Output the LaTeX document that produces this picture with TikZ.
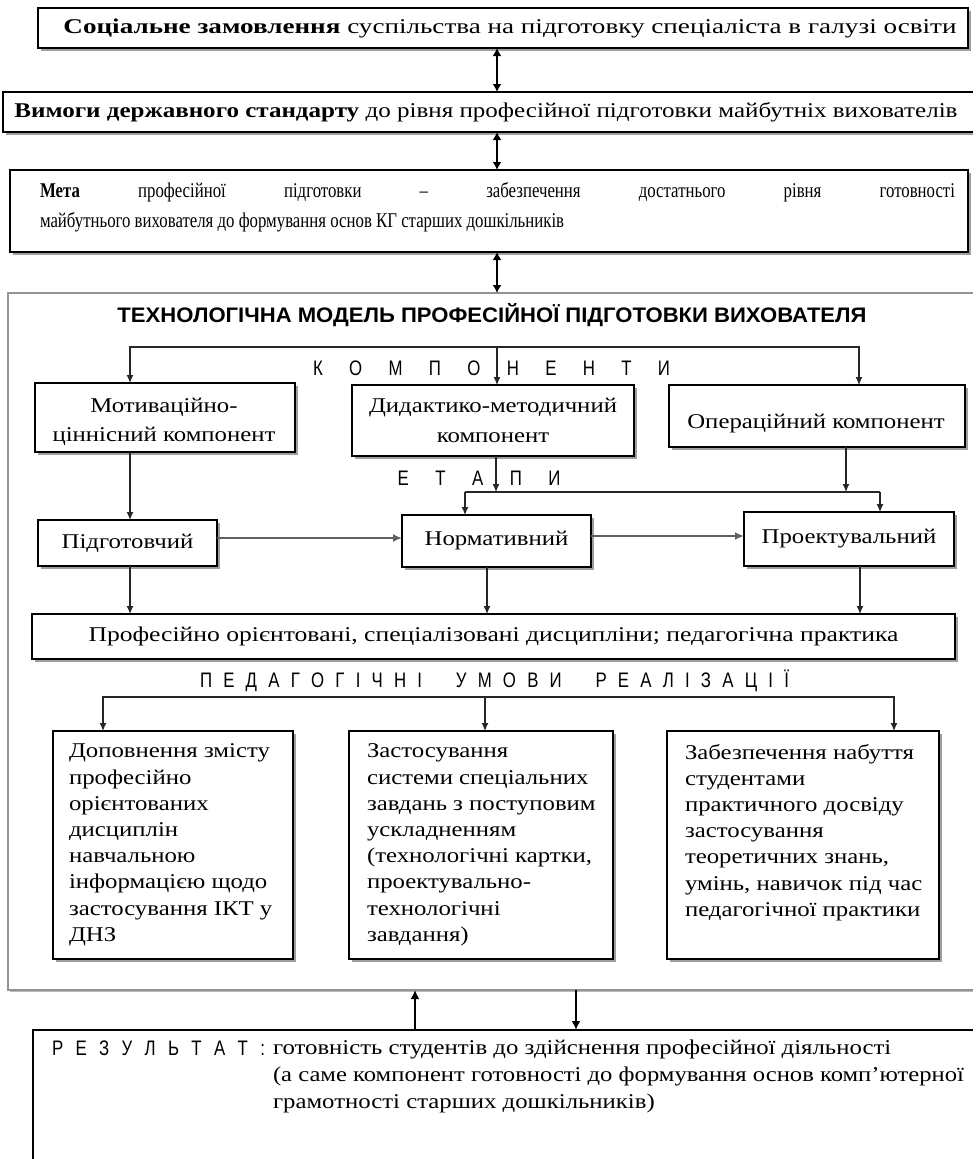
\documentclass[tikz,border=0pt]{standalone}
\usepackage{fontspec}
\setmainfont{Liberation Serif}[FakeStretch=1.18]
\newfontfamily\condserif[FakeStretch=0.8]{Liberation Serif}
\newfontfamily\sansf{Liberation Sans}
\newfontfamily\narrowf[FakeStretch=0.8]{Liberation Sans}
\usetikzlibrary{arrows.meta,shadows}
\newcommand{\spreadtxt}[2]{\makebox[#1][s]{#2}}
\newcommand{\hfit}[2]{\resizebox{#1}{\height}{#2}}
\begin{document}
\begin{tikzpicture}[x=1pt,y=-1pt,
  every node/.style={inner sep=0pt, outer sep=0pt},
  box/.style={draw=black, line width=1.3pt, fill=white,
    drop shadow={shadow xshift=2.5pt,shadow yshift=-2.5pt,fill=gray!75,opacity=1}},
  openbox/.style={draw=black, line width=1.3pt},
  shade/.style={fill=gray!75},
  txt/.style={font=\fontsize{21}{26.2}\selectfont},
  sp/.style={font=\narrowf\fontsize{21}{24}\selectfont, anchor=base},
  conn/.style={line width=1.2pt, draw=black!85},
  arr/.style={line width=1.2pt, draw=black!85, -{Latex[length=8pt,width=7pt]}},
  harr/.style={line width=2.6pt, draw=gray!75!black, -{Latex[length=9pt,width=8pt]}},
  dbl/.style={line width=2.6pt, {Latex[length=8pt,width=9pt]}-{Latex[length=8pt,width=9pt]}},
  tarr/.style={line width=2.6pt, -{Latex[length=9pt,width=9pt]}}
]
\useasboundingbox (0,0) rectangle (977,1159);
\fill[white] (0,0) rectangle (977,1159);

% top boxes
\node[box, minimum width=930pt, minimum height=40pt] (soc) at (503,28) {};
\node[txt] (soct) at (510,28)
  {\hfit{893pt}{\textbf{Соціальне замовлення} суспільства на підготовку спеціаліста в галузі освіти}};
% box cut by the right edge of the picture
\fill[shade] (5.5,132) rectangle (973,134.5);
\coordinate (vNW) at (3,92);
\coordinate (vSW) at (3,132);
\coordinate (vNE) at (973,92);
\coordinate (vSE) at (973,132);
\draw[openbox] (vNE) -- (vNW) -- (vSW) -- (vSE);
\node[txt] (vymt) at (486,112)
  {\hfit{943pt}{\textbf{Вимоги державного стандарту} до рівня професійної підготовки майбутніх вихователів}};
\node[box, minimum width=958pt, minimum height=82pt] (meta) at (489,211) {};
\node[txt, font=\condserif\fontsize{21}{30}\selectfont, anchor=north west, text width=915pt, align=justify] (metat) at (40,182)
  {\textbf{Мета} професійної підготовки – забезпечення достатнього рівня готовності\linebreak
   майбутнього вихователя до формування основ КГ старших дошкільників};

% model frame (cut by the right edge)
\fill[gray!55] (9.5,990) rectangle (973,992);
\coordinate (mNW) at (8,293);
\coordinate (mSW) at (8,990);
\coordinate (mNE) at (973,293);
\coordinate (mSE) at (973,990);
\draw[draw=gray!85, line width=1.5pt] (mNE) -- (mNW) -- (mSW) -- (mSE);
\node (title) at (492,315)
  {\hfit{749pt}{\sansf\bfseries\fontsize{21}{24}\selectfont ТЕХНОЛОГІЧНА МОДЕЛЬ ПРОФЕСІЙНОЇ ПІДГОТОВКИ ВИХОВАТЕЛЯ}};

\coordinate (ax) at (497,0);
\draw[dbl] (soc.south -| ax) -- (vNW -| ax);
\draw[dbl] (vSW -| ax) -- (meta.north -| ax);
\draw[dbl] (meta.south -| ax) -- (mNW -| ax);

% components
\node[sp] (komp) at (491.5,375) {\spreadtxt{357pt}{К\hfill О\hfill М\hfill П\hfill О\hfill Н\hfill Е\hfill Н\hfill Т\hfill И}};
\node[box, minimum width=260pt, minimum height=69pt] (motiv) at (165,417.5) {};
\node[txt, align=center, font=\fontsize{21}{29}\selectfont] (motivt) at (164,422)
  {Мотиваційно-\\ціннісний компонент};
\node[box, txt, minimum width=282pt, minimum height=71pt, align=center, font=\fontsize{21}{30}\selectfont] (dyd) at (493,420.5)
  {Дидактико-методичний\\компонент};
\node[box, minimum width=296pt, minimum height=62pt] (op) at (817,416) {};
\node[txt] (opt) at (816,424) {Операційний компонент};

\coordinate (kL) at (130,347);
\coordinate (kM) at (497,347);
\coordinate (kR) at (859,347);
\draw[arr] (kM) -- (kL) -- (kL |- motiv.north);
\draw[arr] (kM) -- (kR) -- (kR |- op.north);
\draw[arr] (kM) -- (kM |- dyd.north);

% stages
\node[sp] (etap) at (479,485) {\spreadtxt{163pt}{Е\hfill Т\hfill А\hfill П\hfill И}};
\node[box, txt, minimum width=179pt, minimum height=46pt] (pidg) at (127.5,543) {Підготовчий};
\node[box, txt, minimum width=189pt, minimum height=52pt] (norm) at (496.5,541) {Нормативний};
\node[box, txt, minimum width=210pt, minimum height=54pt] (proekt) at (849,539) {Проектувальний};

\coordinate (eL) at (465,492);
\coordinate (eM) at (496,492);
\coordinate (eO) at (846,492);
\coordinate (eR) at (880,492);
\draw[conn] (eL) -- (eR);
\draw[arr] (motiv.south -| kL) -- (pidg.north -| kL);
\draw[arr] (dyd.south -| eM) -- (eM);
\draw[arr] (op.south -| eO) -- (eO);
\draw[arr] (eL) -- (eL |- norm.north);
\draw[arr] (eR) -- (eR |- proekt.north);

\coordinate (h1) at (0,538);
\coordinate (h2) at (0,536);
\draw[harr] (pidg.east |- h1) -- (norm.west |- h1);
\draw[harr] (norm.east |- h2) -- (proekt.west |- h2);

% disciplines
\node[box, txt, minimum width=923pt, minimum height=45pt] (prof) at (493.5,636.5)
  {\hfit{810pt}{Професійно орієнтовані, спеціалізовані дисципліни; педагогічна практика}};
\coordinate (d2) at (487,0);
\coordinate (d3) at (860,0);
\draw[arr] (pidg.south -| kL) -- (prof.north -| kL);
\draw[arr] (norm.south -| d2) -- (prof.north -| d2);
\draw[arr] (proekt.south -| d3) -- (prof.north -| d3);

% conditions
\node[sp] (umovy) at (494.5,687) {\spreadtxt{589pt}{П\hfill Е\hfill Д\hfill А\hfill Г\hfill О\hfill Г\hfill І\hfill Ч\hfill Н\hfill І\hfill\hfill\hfill У\hfill М\hfill О\hfill В\hfill И\hfill\hfill\hfill Р\hfill Е\hfill А\hfill Л\hfill І\hfill З\hfill А\hfill Ц\hfill І\hfill Ї}};
\node[box, minimum width=240pt, minimum height=228pt] (ca) at (173,845) {};
\node[box, minimum width=264pt, minimum height=228pt] (cb) at (481,845) {};
\node[box, minimum width=272pt, minimum height=228pt] (cc) at (803,845) {};
\node[txt, anchor=north west, align=left] (cat) at (69,744)
  {Доповнення змісту\\професійно\\орієнтованих\\дисциплін\\навчальною\\інформацією щодо\\застосування ІКТ у\\ДНЗ};
\node[txt, anchor=north west, align=left] (cbt) at (367,744)
  {Застосування\\системи спеціальних\\завдань з поступовим\\ускладненням\\(технологічні картки,\\проектувально-\\технологічні\\завдання)};
\node[txt, anchor=north west, align=left] (cct) at (685,744)
  {Забезпечення набуття\\студентами\\практичного досвіду\\застосування\\теоретичних знань,\\умінь, навичок під час\\педагогічної практики};

\coordinate (pL) at (103,697);
\coordinate (pM) at (485,697);
\coordinate (pR) at (894,697);
\draw[arr] (pM) -- (pL) -- (pL |- ca.north);
\draw[arr] (pM) -- (pR) -- (pR |- cc.north);
\draw[arr] (pM) -- (pM |- cb.north);

% result (cut by the right and bottom edges)
\coordinate (rNW) at (33,1030);
\coordinate (rNE) at (973,1030);
\coordinate (rSW) at (33,1159);
\draw[openbox] (rNE) -- (rNW) -- (rSW);
\node[sp, anchor=base west] (rest) at (52,1055)
  {\spreadtxt{213pt}{Р\hfill Е\hfill З\hfill У\hfill Л\hfill Ь\hfill Т\hfill А\hfill Т\hfill :}};
\node[txt, anchor=north west, align=left, font=\fontsize{21}{27}\selectfont] (rest2) at (273,1040)
  {готовність студентів до здійснення професійної діяльності\\
   \hfit{691pt}{(а саме компонент готовності до формування основ комп’ютерної}\\
   грамотності старших дошкільників)};

\coordinate (r1) at (415,0);
\coordinate (r2) at (576,0);
\draw[tarr] (rNW -| r1) -- (mSW -| r1);
\draw[tarr] (mSW -| r2) -- (rNW -| r2);
\end{tikzpicture}
\end{document}
